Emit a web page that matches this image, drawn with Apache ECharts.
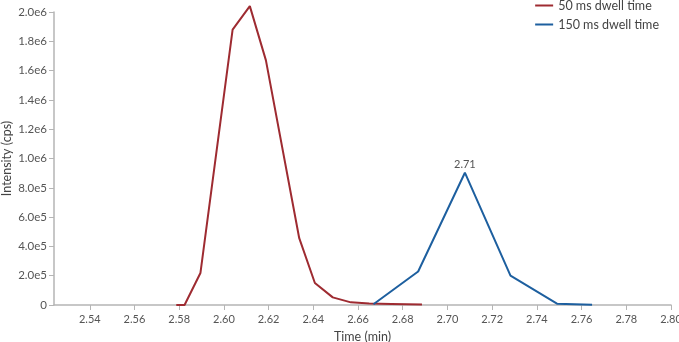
<!DOCTYPE html>
<html>
<head>
<meta charset="utf-8">
<script src="https://cdn.jsdelivr.net/npm/echarts@6/dist/echarts.min.js"></script>
<style>
  html, body { margin: 0; padding: 0; background: #fff; }
  #chart { width: 679px; height: 342px; }
</style>
</head>
<body>
<div id="chart"></div>
<script>
// 50 ms dwell time: [time (min), intensity (cps)]
const dwell50 = [
  [2.5787, 0], [2.5824, 0], [2.5895, 2.18e5], [2.6039, 1.88e6],
  [2.6116, 2.04e6], [2.6188, 1.67e6], [2.6337, 4.56e5], [2.6407, 1.5e5],
  [2.6487, 5.2e4], [2.6568, 1.8e4], [2.665, 1.0e4], [2.675, 7e3], [2.6886, 3e3]
];
// 150 ms dwell time
const dwell150 = [
  [2.6669, 5e3], [2.6869, 2.29e5], [2.7078, 9.03e5], [2.7282, 2.0e5],
  [2.749, 9e3], [2.7647, 2e3]
];
const xTicks = [2.54, 2.56, 2.58, 2.60, 2.62, 2.64, 2.66, 2.68, 2.70, 2.72, 2.74, 2.76, 2.78, 2.80];
const yTickLabels = ['0', '2.0e5', '4.0e5', '6.0e5', '8.0e5', '1.0e6', '1.2e6', '1.4e6', '1.6e6', '1.8e6', '2.0e6'];
const peakLabel = '2.71';

const font = 'Lato, "Open Sans", sans-serif';
const chart = echarts.init(document.getElementById('chart'));

chart.setOption({
  animation: false,
  textStyle: { fontFamily: font },
  grid: { left: 54, right: 8, top: 12, bottom: 37, containLabel: false, outerBoundsMode: 'none' },
  legend: {
    top: -1,
    right: 20,
    padding: 0,
    orient: 'vertical',
    itemWidth: 18,
    itemHeight: 2,
    itemGap: 6,
    icon: 'rect',
    textStyle: { fontFamily: font, fontSize: 12.5, color: '#444' },
    data: ['50 ms dwell time', '150 ms dwell time']
  },
  xAxis: {
    type: 'value',
    min: 2.524,
    max: 2.80,
    name: 'Time (min)',
    nameLocation: 'middle',
    nameGap: 25,
    nameMoveOverlap: false,
    nameTextStyle: { fontFamily: font, fontSize: 12.5, color: '#444' },
    axisLine: { lineStyle: { color: '#b5b5b5', width: 1.5 } },
    axisTick: { show: true, length: 5, customValues: xTicks, lineStyle: { color: '#b5b5b5' } },
    axisLabel: {
      customValues: xTicks,
      formatter: v => v.toFixed(2),
      color: '#555', fontSize: 11, margin: 9
    },
    splitLine: { show: false }
  },
  yAxis: {
    type: 'value',
    min: 0,
    max: 2e6,
    interval: 2e5,
    name: 'Intensity (cps)',
    nameLocation: 'middle',
    nameGap: 41,
    nameMoveOverlap: false,
    nameTextStyle: { fontFamily: font, fontSize: 12.5, color: '#444' },
    axisLine: { show: true, lineStyle: { color: '#b5b5b5', width: 1.5 } },
    axisTick: { show: true, length: 5, lineStyle: { color: '#b5b5b5' } },
    axisLabel: {
      color: '#555', fontSize: 11.5, margin: 7,
      formatter: (v) => yTickLabels[Math.round(v / 2e5)]
    },
    splitLine: { show: false }
  },
  series: [
    {
      name: '50 ms dwell time',
      type: 'line',
      data: dwell50,
      showSymbol: false,
      clip: false,
      color: '#9e2b31',
      lineStyle: { width: 2, color: '#9e2b31' }
    },
    {
      name: '150 ms dwell time',
      type: 'line',
      data: dwell150,
      showSymbol: false,
      clip: false,
      color: '#1d5f9f',
      lineStyle: { width: 2, color: '#1d5f9f' },
      markPoint: {
        symbol: 'circle',
        symbolSize: 0,
        data: [{ coord: dwell150[2], value: peakLabel }],
        label: {
          show: true, position: 'top', distance: 3,
          formatter: peakLabel, color: '#555', fontSize: 11
        }
      }
    }
  ]
});
</script>
</body>
</html>
